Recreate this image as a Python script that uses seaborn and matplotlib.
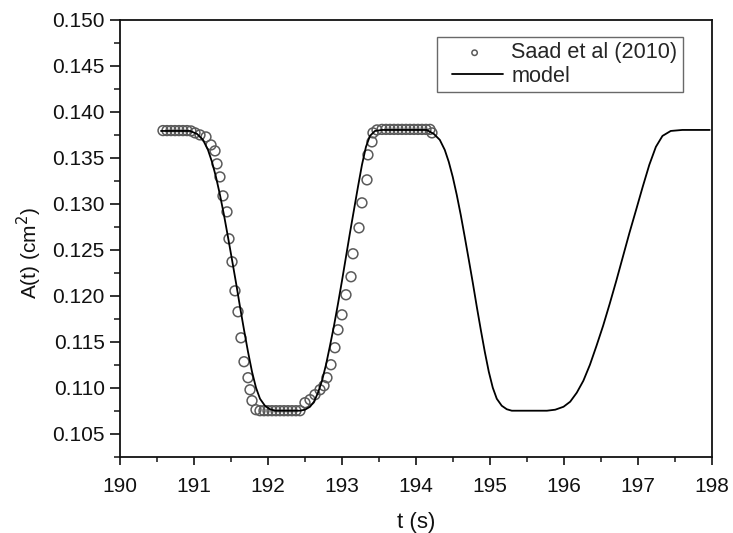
import numpy as np
import pandas as pd
import matplotlib
matplotlib.use("Agg")
import matplotlib.pyplot as plt
import seaborn as sns
from matplotlib.ticker import MultipleLocator, FormatStrFormatter
from matplotlib.legend_handler import HandlerLine2D
from matplotlib.lines import Line2D

# Experimental data (Saad et al 2010)
exp_t = [190.581, 190.635, 190.689, 190.743, 190.797, 190.851, 190.905, 190.959,
         191.014, 191.081, 191.162, 191.230, 191.284, 191.311, 191.351, 191.392,
         191.446, 191.473, 191.514, 191.554, 191.595, 191.635, 191.676, 191.730,
         191.757, 191.784, 191.838, 191.892, 191.946, 192.000, 192.054, 192.108,
         192.162, 192.216, 192.270, 192.324, 192.378, 192.432, 192.500, 192.568,
         192.635, 192.703, 192.757, 192.797, 192.851, 192.905, 192.946, 193.000,
         193.054, 193.122, 193.149, 193.230, 193.270, 193.338, 193.351, 193.405,
         193.419, 193.473, 193.541, 193.595, 193.649, 193.703, 193.757, 193.811,
         193.865, 193.919, 193.973, 194.027, 194.081, 194.135, 194.189, 194.216]
exp_A = [0.13797, 0.13797, 0.13797, 0.13797, 0.13797, 0.13797, 0.13797, 0.13793,
         0.13772, 0.13750, 0.13728, 0.13641, 0.13576, 0.13435, 0.13293, 0.13087,
         0.12913, 0.12620, 0.12370, 0.12054, 0.11826, 0.11543, 0.11283, 0.11109,
         0.10978, 0.10859, 0.10761, 0.10750, 0.10750, 0.10750, 0.10750, 0.10750,
         0.10750, 0.10750, 0.10750, 0.10750, 0.10750, 0.10750, 0.10837, 0.10870,
         0.10924, 0.10978, 0.11022, 0.11109, 0.11250, 0.11435, 0.11630, 0.11793,
         0.12011, 0.12207, 0.12457, 0.12739, 0.13011, 0.13261, 0.13533, 0.13674,
         0.13772, 0.13804, 0.13810, 0.13810, 0.13810, 0.13810, 0.13810, 0.13810,
         0.13810, 0.13810, 0.13810, 0.13810, 0.13810, 0.13810, 0.13810, 0.13772]

# Model curve
model_t = [190.554, 190.946, 191.041, 191.122, 191.189, 191.243, 191.297, 191.351,
           191.405, 191.459, 191.514, 191.568, 191.622, 191.676, 191.730, 191.784,
           191.838, 191.892, 191.959, 192.027, 192.095, 192.432, 192.500, 192.568,
           192.622, 192.676, 192.730, 192.784, 192.838, 192.892, 192.946, 193.000,
           193.054, 193.108, 193.162, 193.216, 193.270, 193.324, 193.378, 193.446,
           193.541, 194.146, 194.241, 194.322, 194.389, 194.443, 194.497, 194.551,
           194.605, 194.659, 194.714, 194.768, 194.822, 194.876, 194.930, 194.984,
           195.038, 195.092, 195.159, 195.227, 195.295, 195.770, 195.882, 195.994,
           196.084, 196.173, 196.262, 196.351, 196.440, 196.529, 196.618, 196.707,
           196.796, 196.885, 196.975, 197.064, 197.153, 197.242, 197.331, 197.443,
           197.600, 197.970]
model_A = [0.13793, 0.13793, 0.13761, 0.13696, 0.13587, 0.13457, 0.13293, 0.13098,
           0.12880, 0.12641, 0.12391, 0.12141, 0.11880, 0.11630, 0.11391, 0.11174,
           0.11000, 0.10880, 0.10804, 0.10766, 0.10750, 0.10750, 0.10761, 0.10793,
           0.10848, 0.10946, 0.11076, 0.11250, 0.11457, 0.11674, 0.11913, 0.12163,
           0.12424, 0.12685, 0.12935, 0.13185, 0.13424, 0.13620, 0.13739, 0.13793,
           0.13804, 0.13804, 0.13761, 0.13696, 0.13587, 0.13457, 0.13293, 0.13098,
           0.12880, 0.12641, 0.12391, 0.12141, 0.11880, 0.11630, 0.11391, 0.11174,
           0.11000, 0.10880, 0.10804, 0.10766, 0.10750, 0.10750, 0.10761, 0.10793,
           0.10848, 0.10946, 0.11076, 0.11250, 0.11457, 0.11674, 0.11913, 0.12163,
           0.12424, 0.12685, 0.12935, 0.13185, 0.13424, 0.13620, 0.13739, 0.13793,
           0.13804, 0.13804]

x_ticks = [190, 191, 192, 193, 194, 195, 196, 197, 198]
y_ticks = [0.105, 0.110, 0.115, 0.120, 0.125, 0.130, 0.135, 0.140, 0.145, 0.150]


class ShortLine(HandlerLine2D):
    def create_artists(self, legend, orig_handle, xdescent, ydescent, width,
                       height, fontsize, trans):
        arts = super().create_artists(legend, orig_handle, xdescent, ydescent,
                                      width, height, fontsize, trans)
        for a in arts:
            xd = np.asarray(a.get_xdata(), dtype=float)
            if len(xd) >= 2:
                mid = 0.5 * (xd.min() + xd.max())
                c = mid + 0.04 * (xd.max() - xd.min())
                a.set_xdata(c + (xd - mid) * 0.78)
        return arts


sns.set_theme(style="ticks")
plt.rcParams['font.family'] = ['Liberation Sans', 'DejaVu Sans']

fig = plt.figure(figsize=(7.33, 5.33), dpi=100)
ax = fig.add_axes([0.1637, 0.1432, 0.9713 - 0.1637, 0.9625 - 0.1432])

exp_df = pd.DataFrame({"t": exp_t, "A": exp_A})
mod_df = pd.DataFrame({"t": model_t, "A": model_A})

sns.scatterplot(data=exp_df, x="t", y="A", ax=ax, marker="o", s=50,
                facecolor="none", edgecolor="#5a5a5a", linewidth=1.1,
                label="Saad et al (2010)", zorder=3)
sns.lineplot(data=mod_df, x="t", y="A", ax=ax, color="black", linewidth=1.3,
             label="model", sort=False, estimator=None, zorder=4)

ax.set_xlim(190, 198)
ax.set_ylim(0.1025, 0.150)
ax.set_xticks(x_ticks)
ax.set_yticks(y_ticks)
ax.xaxis.set_minor_locator(MultipleLocator(0.5))
ax.yaxis.set_minor_locator(MultipleLocator(0.0025))
ax.yaxis.set_major_formatter(FormatStrFormatter('%.3f'))

ax.tick_params(axis='x', which='major', direction='out', length=5.8, width=1.2,
               labelsize=15, colors='#111111', pad=8.5)
ax.tick_params(axis='y', which='major', direction='out', length=7, width=1.2,
               labelsize=15, colors='#111111', pad=4)
ax.tick_params(axis='x', which='minor', direction='out', length=3.3, width=1.2)
ax.tick_params(axis='y', which='minor', direction='out', length=4.5, width=1.2)
ax.tick_params(top=False, right=False, which='both')
for sp in ax.spines.values():
    sp.set_visible(True)
    sp.set_linewidth(1.3)
    sp.set_color('#111111')

ax.set_xlabel("t (s)", fontsize=16, labelpad=12, color='#111111')
ax.set_ylabel("A(t) (cm$^2$)", fontsize=15, labelpad=8, color='#111111')
ax.yaxis.set_label_coords(-0.128, 0.466)

handles, labels = ax.get_legend_handles_labels()
leg = ax.legend(handles, labels, loc='upper right', bbox_to_anchor=(0.951, 0.961),
                fontsize=15.6, frameon=True, fancybox=False, edgecolor='#444444',
                markerscale=0.55, handlelength=3.0, handletextpad=0.2,
                borderpad=0.25, labelspacing=0.1, borderaxespad=0,
                handler_map={Line2D: ShortLine()})
leg.get_frame().set_linewidth(1.0)

fig.savefig("out.png", dpi=100, facecolor="white")
